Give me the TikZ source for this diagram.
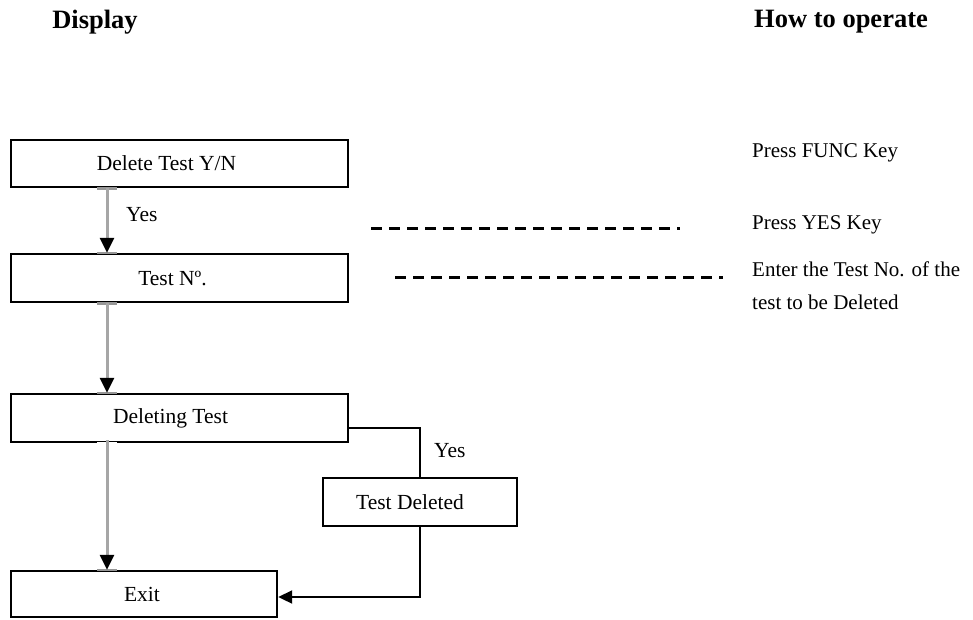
\documentclass[tikz,border=0pt]{standalone}
\usepackage{fontspec}
\setmainfont{Liberation Serif}
\usetikzlibrary{arrows.meta}
\definecolor{shaftgray}{RGB}{166,166,166}
\definecolor{capgray}{RGB}{150,150,150}
\tikzset{
  box/.style={draw=black, line width=2.4pt, fill=white, inner sep=0pt},
  boxtext/.style={font=\fontsize{21.5}{33}\selectfont, inner sep=0pt},
  head/.style={font=\fontsize{26.5}{30}\selectfont\bfseries, inner sep=0pt},
  note/.style={font=\fontsize{21}{33}\selectfont, inner sep=0pt, anchor=west, align=left},
  grayarrow/.style={draw=shaftgray, line width=3pt,
     -{Triangle[length=15pt,width=14pt,color=black,fill=black]}},
  bordercap/.style={draw=capgray, line width=2.6pt},
  blackline/.style={draw=black, line width=2pt},
  blackarrow/.style={draw=black, line width=2pt, -{Triangle[length=14pt,width=13pt]}},
  dashline/.style={draw=black, line width=3pt, dash pattern=on 11pt off 7pt}
}
\begin{document}
\begin{tikzpicture}[x=1pt,y=-1pt]
\useasboundingbox (0,0) rectangle (973,619);
% headings
\node[head] (h1) at (95,22) {Display};
\node[head] (h2) at (841,22) {How to operate};
% boxes
\node[box, minimum width=337pt, minimum height=47pt,
  label={[boxtext,xshift=-13pt]center:Delete Test Y/N}] (b1) at (179.5,163.5) {};
\node[box, minimum width=337pt, minimum height=48pt,
  label={[boxtext,xshift=-7pt]center:Test Nº.}] (b2) at (179.5,278) {};
\node[box, minimum width=337pt, minimum height=48pt,
  label={[boxtext,xshift=-9pt]center:Deleting Test}] (b3) at (179.5,418) {};
\node[box, minimum width=194pt, minimum height=48pt,
  label={[boxtext,xshift=-10pt]center:Test Deleted}] (b4) at (420,502) {};
\node[box, minimum width=266pt, minimum height=46pt,
  label={[boxtext,xshift=-2pt]center:Exit}] (b5) at (144,594) {};
% helper coordinates
\coordinate (ax) at (107,0);
\coordinate (rx) at (420,0);
\coordinate (cy1) at (0,428);
\coordinate (cy2) at (0,597);
% lighter border segments where the gray arrows meet the boxes
\foreach \p in {b1.south,b2.north,b2.south,b3.north,b5.north}
  \draw[bordercap] ([xshift=-10pt]\p -| ax) -- ([xshift=10pt]\p -| ax);
\draw[draw=white, line width=2.6pt] ([xshift=-10pt]b3.south -| ax) -- ([xshift=10pt]b3.south -| ax);
% gray arrows
\draw[grayarrow] (b1.south -| ax) -- (b2.north -| ax);
\draw[grayarrow] (b2.south -| ax) -- (b3.north -| ax);
\draw[grayarrow] ([yshift=3pt]b3.south -| ax) -- (b5.north -| ax);
\node[boxtext, anchor=west] (y1) at (126,215) {Yes};
% right branch
\draw[blackline] (b3.east |- cy1) -- (rx |- cy1) -- (b4.north -| rx);
\node[boxtext, anchor=west] (y2) at (434,451) {Yes};
\draw[blackarrow] (b4.south -| rx) -- (rx |- cy2) -- (b5.east |- cy2);
% dashed leaders
\coordinate (d1a) at (371,228);
\coordinate (d1b) at (680,228);
\coordinate (d2a) at (395,277);
\coordinate (d2b) at (723,277);
\draw[dashline] (d1a) -- (d1b);
\draw[dashline] (d2a) -- (d2b);
% notes
\node[note] (n1) at (752,153) {Press FUNC Key};
\node[note] (n2) at (752,225) {Press YES Key};
\node[note, anchor=north west] (n3) at (752,262) {Enter the Test No. of the\\test to be Deleted};
\end{tikzpicture}
\end{document}
